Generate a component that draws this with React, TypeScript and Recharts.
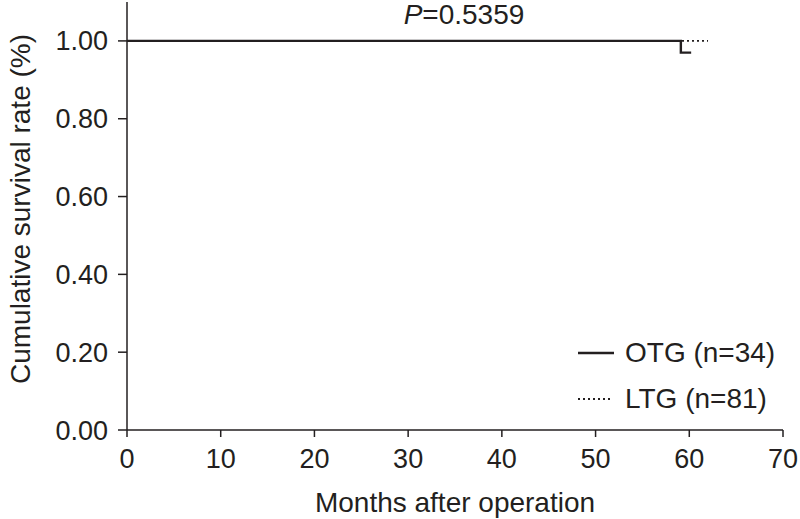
import React from "react";
import { LineChart, Line, XAxis, YAxis, Legend } from "recharts";

// Kaplan-Meier style curves
const otgMonths = [0, 59.1, 60.2];
const otgSurvival = [1.0, 0.97, 0.97];
const ltgMonths = [0, 62];
const ltgSurvival = [1.0, 1.0];
const xTicks = [0, 10, 20, 30, 40, 50, 60, 70];
const yTicks = [0, 0.2, 0.4, 0.6, 0.8, 1.0];

const otg = otgMonths.map((t, i) => ({ t, s: otgSurvival[i] }));
const ltg = ltgMonths.map((t, i) => ({ t, s: ltgSurvival[i] }));

const font = "'Liberation Sans', Arial, sans-serif";
const ink = "#231f20";

const YLabel = () => (
  <text
    x={0}
    y={0}
    transform="translate(20,209) rotate(-90)"
    textAnchor="middle"
    dominantBaseline="central"
    fontSize={28}
    fill={ink}
    fontFamily={font}
  >
    Cumulative survival rate (%)
  </text>
);

const LegendBox = () => (
  <div style={{ fontFamily: font, fontSize: 28, color: ink }}>
    <div style={{ display: "flex", alignItems: "center", height: 46 }}>
      <svg width={47} height={10}>
        <line x1={0} y1={5} x2={36} y2={5} stroke={ink} strokeWidth={2.4} />
      </svg>
      <span>OTG (n=34)</span>
    </div>
    <div style={{ display: "flex", alignItems: "center", height: 46 }}>
      <svg width={47} height={10}>
        <line x1={0} y1={5} x2={35} y2={5} stroke={ink} strokeWidth={1.8} strokeDasharray="2 3" />
      </svg>
      <span>LTG (n=81)</span>
    </div>
  </div>
);

export default function App() {
  return (
    <div style={{ position: "absolute", left: 0, top: 0, width: 800, height: 519, background: "#fff" }}>
      <div
        style={{
          position: "absolute",
          left: 364,
          width: 200,
          top: 0,
          lineHeight: "30px",
          textAlign: "center",
          fontFamily: font,
          fontSize: 28,
          color: ink,
          zIndex: 2,
        }}
      >
        <i>P</i>=0.5359
      </div>
      <LineChart width={800} height={519} margin={{ top: 2, right: 17, bottom: 0, left: 0 }}>
        <XAxis
          type="number"
          dataKey="t"
          domain={[0, 70]}
          ticks={xTicks}
          allowDuplicatedCategory={false}
          height={89}
          tickSize={7}
          tickMargin={12}
          stroke={ink}
          strokeWidth={1.5}
          tick={{ fill: ink, fontSize: 27, fontFamily: font }}
          label={{
            value: "Months after operation",
            position: "insideBottom",
            offset: 7,
            fill: ink,
            fontSize: 28,
            fontFamily: font,
          }}
        />
        <YAxis
          type="number"
          dataKey="s"
          domain={[0, 1.1]}
          ticks={yTicks}
          width={127}
          tickSize={9}
          tickMargin={10}
          stroke={ink}
          strokeWidth={1.5}
          tickFormatter={(v: number) => v.toFixed(2)}
          tick={{ fill: ink, fontSize: 27, fontFamily: font }}
          label={<YLabel />}
        />
        <Legend
          layout="horizontal"
          verticalAlign="middle"
          align="center"
          content={<LegendBox />}
          wrapperStyle={{ position: "absolute", left: 578, top: 330, width: 222 }}
        />
        <Line
          data={ltg}
          dataKey="s"
          type="stepAfter"
          stroke={ink}
          strokeWidth={1.8}
          strokeDasharray="2 3"
          dot={false}
          isAnimationActive={false}
        />
        <Line
          data={otg}
          dataKey="s"
          type="stepAfter"
          stroke={ink}
          strokeWidth={2.4}
          dot={false}
          isAnimationActive={false}
        />
      </LineChart>
    </div>
  );
}
